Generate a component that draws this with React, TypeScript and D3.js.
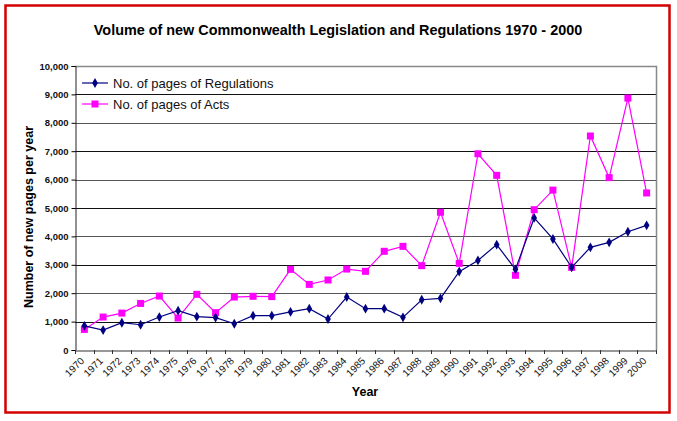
import React, {useRef, useEffect} from 'react';
import * as d3 from 'd3';

const years: string[] = d3.range(1970, 2001).map(String);

const regulations: number[] = [
    850, 700, 960, 890, 1160, 1385, 1175, 1140, 925, 1210,
    1210, 1340, 1455, 1090, 1865, 1455, 1455, 1150, 1770, 1820,
    2760, 3155, 3710, 2840, 4650, 3910, 2910, 3615, 3790, 4165,
    4390
];

const acts: number[] = [
    725, 1160, 1300, 1640, 1900, 1125, 1960, 1315, 1865, 1890,
    1880, 2840, 2310, 2465, 2850, 2770, 3475, 3650, 2970, 4850,
    3050, 6910, 6150, 2630, 4940, 5630, 2910, 7535, 6070, 8870,
    5530
];

const yTicks: number[] = d3.range(0, 10001, 1000);

const seriesNames = ['No. of pages of Regulations', 'No. of pages of Acts'];

const W = 677, H = 421;
const font = 'Arial, "Liberation Sans", sans-serif';

const App: React.FC = () => {
    const svgRef = useRef<SVGSVGElement | null>(null);

    useEffect(() => {
        const svg = d3.select(svgRef.current);
        svg.selectAll('*').remove();

        const left = 75, right = 656, top = 66, bottom = 350;

        const x = d3.scaleBand<string>().domain(years).range([left, right]);
        const y = d3.scaleLinear().domain([0, 10000]).range([bottom, top]);
        const cx = (yr: string) => (x(yr) as number) + x.bandwidth() / 2;

        svg.append('rect')
            .attr('x', 5.5).attr('y', 5.5)
            .attr('width', 664).attr('height', 407)
            .attr('fill', 'white')
            .attr('stroke', '#d40000')
            .attr('stroke-width', 2.5);

        svg.append('text')
            .attr('x', 338).attr('y', 35)
            .attr('text-anchor', 'middle')
            .style('font-family', font)
            .style('font-weight', 'bold')
            .style('font-size', '14.4px')
            .text('Volume of new Commonwealth Legislation and Regulations 1970 - 2000');

        // gridlines
        svg.append('g')
            .selectAll('line')
            .data(yTicks.filter(t => t > 0))
            .enter()
            .append('line')
            .attr('x1', left).attr('x2', right)
            .attr('y1', d => Math.round(y(d)) + 0.5)
            .attr('y2', d => Math.round(y(d)) + 0.5)
            .attr('stroke', (d, i) => i % 2 === 0 ? '#111' : '#555')
            .attr('stroke-width', 1);

        // plot border top/right
        svg.append('path')
            .attr('d', `M${left},${top + 0.5}H${right + 0.5}V${bottom}`)
            .attr('fill', 'none')
            .attr('stroke', '#888')
            .attr('stroke-width', 1.5);

        const yAxis = svg.append('g')
            .attr('transform', `translate(${left + 0.5},0)`)
            .call(d3.axisLeft(y).tickValues(yTicks).tickSize(4).tickFormat(d3.format(',')));
        yAxis.select('.domain').attr('stroke', '#222');
        yAxis.selectAll('text')
            .style('font-family', font)
            .style('font-size', '9.5px')
            .style('font-weight', 'bold')
            .attr('fill', '#111');

        const xAxis = svg.append('g')
            .attr('transform', `translate(0,${bottom + 0.5})`)
            .call(d3.axisBottom(x).tickSize(0).tickFormat(() => ''));
        xAxis.select('.domain').attr('stroke', '#333');

        svg.append('g')
            .selectAll('line')
            .data(d3.range(0, years.length + 1))
            .enter()
            .append('line')
            .attr('x1', i => Math.round(left + i * x.step()) + 0.5)
            .attr('x2', i => Math.round(left + i * x.step()) + 0.5)
            .attr('y1', bottom)
            .attr('y2', bottom + 4)
            .attr('stroke', '#333');

        svg.append('g')
            .selectAll('text')
            .data(years)
            .enter()
            .append('text')
            .attr('transform', d => `translate(${cx(d) - 2},${bottom + 9}) rotate(-45)`)
            .attr('text-anchor', 'end')
            .attr('dy', '0.35em')
            .style('font-family', font)
            .style('font-size', '10px')
            .attr('fill', '#111')
            .text(d => d);

        svg.append('text')
            .attr('x', 365).attr('y', 396)
            .attr('text-anchor', 'middle')
            .style('font-family', font)
            .style('font-weight', 'bold')
            .style('font-size', '12.5px')
            .text('Year');

        svg.append('text')
            .attr('transform', `translate(33,217) rotate(-90)`)
            .attr('text-anchor', 'middle')
            .style('font-family', font)
            .style('font-weight', 'bold')
            .style('font-size', '12.5px')
            .text('Number of new pages per year');

        const line = d3.line<number>()
            .x((d, i) => cx(years[i]))
            .y(d => y(d));

        const diamond = d3.symbol().type(d3.symbolDiamond).size(28);

        // acts
        svg.append('path')
            .datum(acts)
            .attr('d', line)
            .attr('fill', 'none')
            .attr('stroke', '#ff00ff')
            .attr('stroke-width', 1.2);
        svg.append('g')
            .selectAll('rect')
            .data(acts)
            .enter()
            .append('rect')
            .attr('x', (d, i) => cx(years[i]) - 3.5)
            .attr('y', d => y(d) - 3.5)
            .attr('width', 7).attr('height', 7)
            .attr('fill', '#ff00ff');

        // regulations
        svg.append('path')
            .datum(regulations)
            .attr('d', line)
            .attr('fill', 'none')
            .attr('stroke', '#000080')
            .attr('stroke-width', 1.2);
        svg.append('g')
            .selectAll('path')
            .data(regulations)
            .enter()
            .append('path')
            .attr('d', diamond)
            .attr('transform', (d, i) => `translate(${cx(years[i])},${y(d)})`)
            .attr('fill', '#000080');

        // legend
        const legend = svg.append('g').attr('transform', 'translate(82,83)');
        const colors = ['#000080', '#ff00ff'];
        seriesNames.forEach((name, i) => {
            const g = legend.append('g').attr('transform', `translate(0,${i * 21})`);
            g.append('line')
                .attr('x1', 0).attr('x2', 26)
                .attr('stroke', colors[i]).attr('stroke-width', 1.2);
            if (i === 0) {
                g.append('path').attr('d', diamond).attr('transform', 'translate(13,0)').attr('fill', colors[i]);
            } else {
                g.append('rect').attr('x', 9.5).attr('y', -3.5).attr('width', 7).attr('height', 7).attr('fill', colors[i]);
            }
            g.append('text')
                .attr('x', 31).attr('dy', '0.35em')
                .style('font-family', font)
                .style('font-size', '13px')
                .attr('fill', '#111')
                .text(name);
        });
    }, []);

    return (
        <svg ref={svgRef} width={W} height={H}
             style={{position: 'absolute', left: 0, top: 0, background: 'white'}}/>
    );
};

export default App;
